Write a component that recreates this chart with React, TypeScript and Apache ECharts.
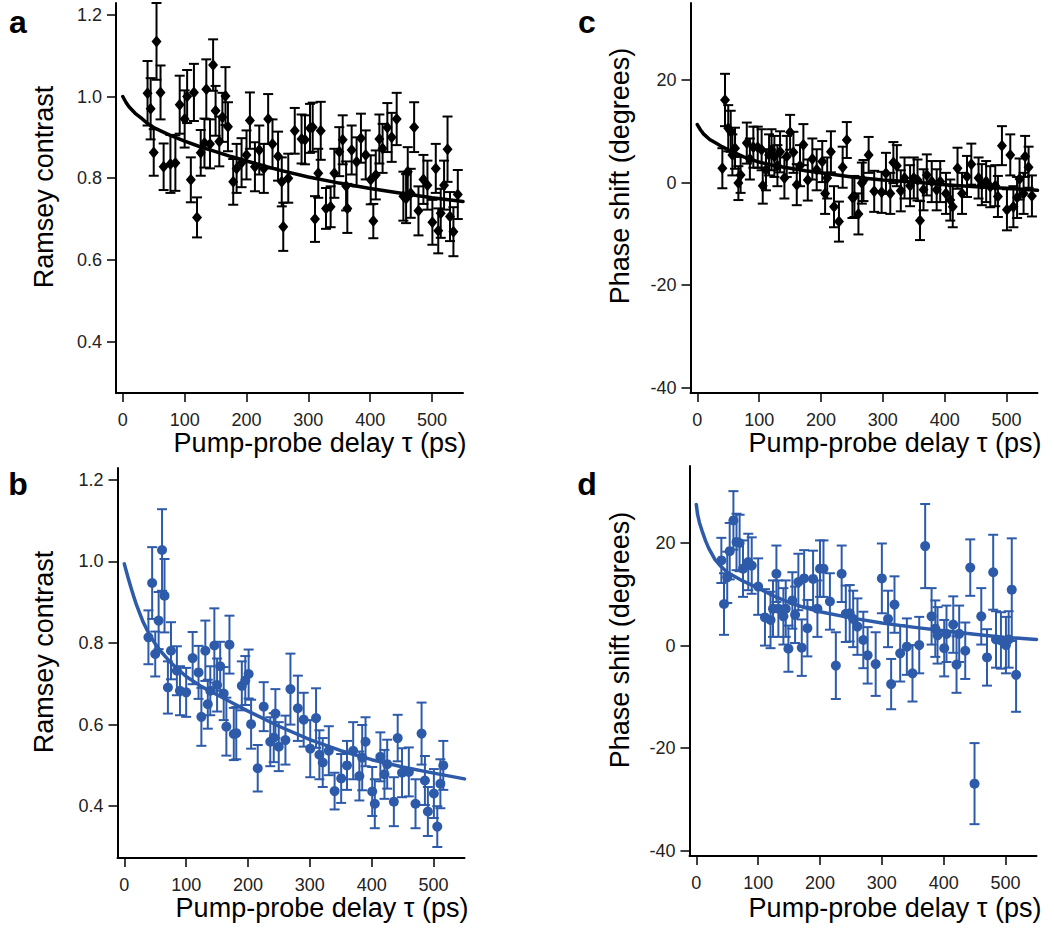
import React, { useEffect, useRef } from "react";
import * as echarts from "echarts";

// ---------- tick values ----------
const xTicks = [0, 100, 200, 300, 400, 500];
const ramseyTicks = [0.4, 0.6, 0.8, 1.0, 1.2];
const phaseTicks = [-40, -20, 0, 20];

// ---------- panel a: Ramsey contrast (black) ----------
const aT = [40, 45, 50, 54.5, 61, 66, 77, 85, 92, 100, 104, 110, 115, 120, 126, 132, 135, 141, 146, 150, 156, 161, 166, 170, 178.5, 184, 192, 200, 205.5, 213.6, 220.6, 228, 235, 242, 251, 257, 259.4, 267.5, 278, 289, 294.5, 302.6, 307, 310.7, 316, 320, 328.5, 336, 342, 350, 355.5, 361, 363, 370, 378, 385, 392.7, 400.8, 405, 409, 414.8, 420, 427.7, 434.7, 442.8, 453.6, 458, 460.7, 465.5, 471, 478, 486, 492.5, 500.5, 506, 510, 514, 519.4, 525, 529, 534.5, 541.6];
const aV = [1.008, 0.97, 0.863, 1.135, 1.01, 0.828, 0.835, 0.837, 0.98, 0.945, 1.0, 0.796, 1.01, 0.704, 0.862, 0.886, 1.018, 0.884, 1.077, 0.965, 0.89, 0.949, 1.001, 0.926, 0.791, 0.824, 0.838, 0.857, 0.941, 0.828, 0.869, 0.824, 0.945, 0.884, 0.854, 0.791, 0.681, 0.8, 0.916, 0.896, 0.894, 0.922, 0.925, 0.7, 0.812, 0.916, 0.726, 0.73, 0.812, 0.865, 0.894, 0.781, 0.726, 0.869, 0.84, 0.898, 0.857, 0.796, 0.695, 0.808, 0.896, 0.873, 0.924, 0.9, 0.945, 0.756, 0.75, 0.816, 0.763, 0.925, 0.72, 0.797, 0.783, 0.692, 0.824, 0.671, 0.714, 0.783, 0.871, 0.706, 0.669, 0.76];
const aE = [0.079, 0.075, 0.057, 0.094, 0.066, 0.057, 0.071, 0.068, 0.071, 0.07, 0.065, 0.055, 0.07, 0.049, 0.056, 0.06, 0.073, 0.06, 0.063, 0.061, 0.061, 0.06, 0.071, 0.06, 0.056, 0.06, 0.06, 0.06, 0.069, 0.06, 0.06, 0.06, 0.061, 0.06, 0.06, 0.06, 0.059, 0.06, 0.056, 0.06, 0.06, 0.06, 0.06, 0.056, 0.06, 0.071, 0.05, 0.05, 0.06, 0.06, 0.06, 0.06, 0.06, 0.06, 0.06, 0.06, 0.06, 0.06, 0.042, 0.06, 0.06, 0.06, 0.06, 0.06, 0.064, 0.06, 0.06, 0.06, 0.06, 0.061, 0.06, 0.06, 0.06, 0.055, 0.06, 0.055, 0.06, 0.06, 0.08, 0.06, 0.06, 0.06];
const aFitT = [0, 5, 10, 20, 30, 40, 50, 75, 100, 125, 150, 175, 200, 250, 300, 350, 400, 450, 500, 550];
const aFitV = [1.0, 0.986, 0.975, 0.959, 0.947, 0.934, 0.924, 0.906, 0.891, 0.877, 0.865, 0.853, 0.842, 0.821, 0.803, 0.788, 0.775, 0.763, 0.752, 0.743];

// ---------- panel b: Ramsey contrast (blue) ----------
const bT = [39, 45, 50, 55.5, 61, 65, 70.5, 75.5, 85, 90, 100, 110.5, 120, 124.6, 131, 135, 139, 145.6, 150, 155, 160.7, 165, 170, 177, 181, 190, 195.6, 201, 205, 215.7, 225.4, 236, 241.6, 244.3, 249.7, 260.5, 268.6, 280.6, 290, 300.6, 310, 315.4, 320.8, 330.6, 340, 350.6, 360, 370, 380, 384.6, 390, 400.8, 405, 414, 420.6, 425, 435.8, 442, 449, 460, 470.8, 480.6, 486, 490.8, 500.5, 506, 511, 515.7];
const bV = [0.814, 0.947, 0.773, 0.855, 1.028, 0.916, 0.691, 0.781, 0.732, 0.683, 0.679, 0.763, 0.728, 0.619, 0.781, 0.65, 0.683, 0.794, 0.697, 0.743, 0.676, 0.595, 0.796, 0.577, 0.579, 0.695, 0.708, 0.724, 0.601, 0.493, 0.644, 0.558, 0.568, 0.627, 0.546, 0.562, 0.687, 0.64, 0.612, 0.541, 0.616, 0.526, 0.507, 0.536, 0.437, 0.468, 0.5, 0.536, 0.474, 0.519, 0.558, 0.436, 0.406, 0.521, 0.478, 0.503, 0.411, 0.567, 0.482, 0.484, 0.406, 0.578, 0.463, 0.387, 0.431, 0.35, 0.455, 0.5];
const bE = [0.066, 0.088, 0.055, 0.07, 0.1, 0.09, 0.064, 0.07, 0.06, 0.06, 0.06, 0.064, 0.065, 0.071, 0.074, 0.06, 0.06, 0.091, 0.065, 0.06, 0.065, 0.071, 0.071, 0.064, 0.064, 0.06, 0.06, 0.06, 0.06, 0.057, 0.06, 0.06, 0.06, 0.06, 0.06, 0.06, 0.087, 0.08, 0.066, 0.07, 0.073, 0.06, 0.06, 0.06, 0.045, 0.06, 0.06, 0.07, 0.06, 0.08, 0.06, 0.06, 0.06, 0.06, 0.06, 0.06, 0.06, 0.057, 0.06, 0.06, 0.06, 0.076, 0.06, 0.06, 0.06, 0.05, 0.06, 0.06];
const bFitT = [0, 5, 10, 15, 20, 30, 40, 50, 60, 75, 100, 125, 150, 175, 200, 250, 300, 350, 400, 450, 500, 550];
const bFitV = [0.994, 0.966, 0.94, 0.915, 0.892, 0.853, 0.822, 0.798, 0.778, 0.752, 0.718, 0.693, 0.673, 0.653, 0.633, 0.596, 0.563, 0.536, 0.514, 0.496, 0.481, 0.467];

// ---------- panel c: phase shift (black) ----------
const cT = [40.5, 44.8, 50, 54, 56.7, 61, 66.4, 70, 80, 85, 90.6, 97.7, 104, 105.8, 111, 116, 120, 124.6, 129.5, 133.8, 140.8, 144.6, 150, 155.4, 160.8, 166, 171.5, 178.6, 186, 193, 202, 206.6, 210, 216, 221, 229, 235, 241.7, 250.8, 254, 260.5, 266, 268.6, 277, 286, 298, 305, 312, 317, 322.6, 329, 335, 344, 350, 356, 360, 365.7, 371, 379, 387, 392.7, 402, 409, 413, 420.7, 428, 436, 443, 454.7, 460, 467, 473.6, 481.7, 486, 492.5, 500.6, 506, 511, 517, 521, 527.5, 530, 535.6, 541];
const cV = [2.8, 16.1, 10.6, 10.0, 5.4, 6.7, -0.1, 1.5, 7.7, 4.6, 6.9, 6.9, 6.4, -0.6, 2.5, 5.4, 6.4, 5.1, 3.3, 6.0, 0.9, 5.1, 9.8, 5.9, -0.4, 3.3, 7.4, 0.5, 4.6, 2.5, 4.1, -2.1, 0.9, 6.0, -4.7, -7.6, 3.0, 8.3, -2.9, -2.7, -6.1, -0.1, 0.4, 5.4, -1.7, -1.9, 1.8, -2.1, 3.9, 3.3, -1.6, 0.9, -0.6, 0.9, 0.5, -7.4, -1.4, 1.5, 0.2, -1.4, 0.2, -2.1, -3.4, -4.7, 2.8, -2.1, 1.2, 3.6, 0.9, -0.4, 0.2, -0.8, -0.6, -2.7, 7.2, -5.3, 5.4, -4.7, -2.9, 0.7, -2.1, 5.1, 3.0, -2.6];
const cE = [3.9, 5.1, 4.5, 4, 4, 4, 3.3, 3.5, 4, 4, 4, 4, 4, 3.5, 4, 4, 4, 4, 4, 4, 4, 4, 3.4, 4, 4, 4, 4, 4, 4, 4, 4, 4, 4, 4, 4, 3.9, 4, 3.5, 4, 4, 4, 4, 4, 3.5, 4, 4, 4, 4, 4, 4, 4, 4, 4, 4, 4, 3.8, 4, 4, 4, 4, 4, 4, 4, 4, 4, 4, 4, 4, 4, 4, 4, 4, 4, 4, 3.8, 4, 4, 4, 4, 4, 4, 4, 4, 4];
const cFitT = [0, 5, 10, 20, 30, 40, 50, 75, 100, 125, 150, 175, 200, 250, 300, 350, 400, 450, 500, 550];
const cFitV = [11.3, 10.3, 9.5, 8.4, 7.7, 7.0, 6.4, 5.0, 4.0, 3.3, 2.8, 2.3, 1.9, 1.1, 0.5, 0.1, -0.4, -0.8, -1.1, -1.5];

// ---------- panel d: phase shift (blue) ----------
const dT = [40.5, 44.8, 50, 54, 60, 65, 70, 75.5, 84, 89.6, 100, 111, 120, 124, 129.5, 132.7, 140.8, 144.6, 148.9, 155.3, 159.7, 165, 170.5, 174.3, 179.6, 188.8, 195.8, 200, 205.6, 216, 225.6, 235, 241.7, 248, 253.6, 260.5, 270, 277, 290, 300, 310, 315, 320.4, 329.6, 340.4, 349.5, 360.4, 370, 380.4, 386.4, 390, 400.8, 404.5, 415.4, 420.7, 425, 434.8, 442.9, 449.8, 460.7, 470, 480, 484.5, 492.5, 500.6, 505, 510, 517];
const dV = [16.6, 8.1, 13.3, 18.4, 24.4, 20.2, 20.0, 15.0, 16.3, 15.6, 11.5, 5.5, 5.0, 7.2, 14.0, 7.2, 5.7, 7.2, -0.6, 8.8, 6.0, 12.4, -0.4, 13.1, 3.4, 13.0, 7.2, 15.0, 15.0, 8.6, -3.9, 14.0, 6.2, 6.3, 5.2, 3.7, 1.1, -1.9, -3.6, 13.1, 5.2, -7.5, 8.0, -1.5, -0.2, -5.4, 0.1, 19.4, 5.7, 3.3, 2.0, -0.5, 2.3, 4.1, -3.7, 2.3, -1.0, 15.2, -26.9, 5.7, -2.3, 14.3, 1.2, 1.0, 0.1, 1.2, 10.9, -5.7];
const dE = [4.4, 6.0, 5, 5.5, 5.7, 5.5, 5.5, 5.5, 5.5, 5.5, 5.5, 5.5, 5.5, 5.5, 5.5, 5.5, 5.5, 5.5, 4.5, 5.5, 5.5, 5.5, 5.5, 5.5, 5.5, 5.5, 5.5, 5.5, 5.5, 5.5, 6.5, 5.5, 5.5, 5.5, 5.5, 5.5, 5.5, 5.5, 6.2, 6.8, 5.5, 4.9, 5.5, 5.5, 5.5, 5.5, 5.5, 8.2, 5.5, 5.5, 5.5, 5.5, 5.5, 5.5, 5.5, 5.5, 5.5, 5.5, 7.9, 5.5, 5.5, 7.3, 5.5, 5.5, 5.5, 5.5, 10, 7.2];
const dFitT = [0, 2, 5, 10, 15, 20, 30, 40, 50, 75, 100, 125, 150, 175, 200, 250, 300, 350, 400, 450, 500, 550];
const dFitV = [27.5, 25.6, 24.0, 22.1, 20.4, 19.0, 16.8, 15.4, 14.3, 12.6, 11.2, 9.7, 8.4, 7.4, 6.6, 5.4, 4.4, 3.6, 2.9, 2.2, 1.6, 1.2];

const BLACK = "#000000";
const BLUE = "#2D5BA9";
const FONT = "'Liberation Sans', Arial, Helvetica, sans-serif";

type Panel = {
  grid: { left: number; top: number; width: number; height: number };
  yMin: number;
  yMax: number;
  yTicks: number[];
  yDigits: number;
  color: string;
  symbol: string;
  symbolSize: number | number[];
  t: number[];
  v: number[];
  e: number[];
  fitT: number[];
  fitV: number[];
};

const panels: Panel[] = [
  { grid: { left: 116, top: 3, width: 347, height: 390 }, yMin: 0.274, yMax: 1.229, yTicks: ramseyTicks, yDigits: 1, color: BLACK, symbol: "diamond", symbolSize: [10, 12], t: aT, v: aV, e: aE, fitT: aFitT, fitV: aFitV },
  { grid: { left: 117.5, top: 468, width: 347, height: 390 }, yMin: 0.273, yMax: 1.229, yTicks: ramseyTicks, yDigits: 1, color: BLUE, symbol: "circle", symbolSize: 10, t: bT, v: bV, e: bE, fitT: bFitT, fitV: bFitV },
  { grid: { left: 690.5, top: 3, width: 347, height: 390 }, yMin: -41, yMax: 35, yTicks: phaseTicks, yDigits: 0, color: BLACK, symbol: "diamond", symbolSize: [10, 12], t: cT, v: cV, e: cE, fitT: cFitT, fitV: cFitV },
  { grid: { left: 689.5, top: 466, width: 347, height: 390 }, yMin: -41, yMax: 35, yTicks: phaseTicks, yDigits: 0, color: BLUE, symbol: "circle", symbolSize: 10, t: dT, v: dV, e: dE, fitT: dFitT, fitV: dFitV },
];

function buildOption() {
  const grids: any[] = [];
  const xAxes: any[] = [];
  const yAxes: any[] = [];
  const series: any[] = [];

  panels.forEach((p, i) => {
    grids.push({ ...p.grid });
    xAxes.push({
      type: "value",
      gridIndex: i,
      min: -11,
      max: 550,
      axisLine: { show: true, onZero: false, lineStyle: { color: "#000", width: 2 } },
      axisTick: { show: true, inside: false, length: 9, customValues: xTicks, lineStyle: { color: "#000", width: 1.5 } },
      axisLabel: { customValues: xTicks, fontSize: 18, color: "#222", margin: 18, fontFamily: FONT },
      splitLine: { show: false },
    });
    yAxes.push({
      type: "value",
      gridIndex: i,
      min: p.yMin,
      max: p.yMax,
      axisLine: { show: true, onZero: false, lineStyle: { color: "#000", width: 2 } },
      axisTick: { show: true, inside: false, length: 9, customValues: p.yTicks, lineStyle: { color: "#000", width: 1.5 } },
      axisLabel: {
        customValues: p.yTicks,
        fontSize: 18,
        color: "#222",
        margin: 14,
        fontFamily: FONT,
        formatter: (val: number) => val.toFixed(p.yDigits),
      },
      splitLine: { show: false },
    });

    const errData = p.t.map((x, k) => [x, p.v[k] - p.e[k], p.v[k] + p.e[k]]);
    const color = p.color;
    series.push({
      type: "custom",
      xAxisIndex: i,
      yAxisIndex: i,
      data: errData,
      encode: { x: 0, y: [1, 2] },
      z: 2,
      renderItem: (params: any, api: any) => {
        const x = api.value(0);
        const lo = api.value(1);
        const hi = api.value(2);
        const top = api.coord([x, hi]);
        const bot = api.coord([x, lo]);
        const w = 5;
        const st = { stroke: color, lineWidth: 2, fill: "none" };
        return {
          type: "group",
          children: [
            { type: "line", shape: { x1: top[0], y1: top[1], x2: bot[0], y2: bot[1] }, style: st },
            { type: "line", shape: { x1: top[0] - w, y1: top[1], x2: top[0] + w, y2: top[1] }, style: st },
            { type: "line", shape: { x1: bot[0] - w, y1: bot[1], x2: bot[0] + w, y2: bot[1] }, style: st },
          ],
        };
      },
    });
    series.push({
      type: "scatter",
      xAxisIndex: i,
      yAxisIndex: i,
      symbol: p.symbol,
      symbolSize: p.symbolSize,
      itemStyle: { color: p.color, opacity: 1 },
      z: 3,
      data: p.t.map((x, k) => [x, p.v[k]]),
    });
    series.push({
      type: "line",
      xAxisIndex: i,
      yAxisIndex: i,
      showSymbol: false,
      symbol: "none",
      smooth: false,
      lineStyle: { color: p.color, width: 3.5, join: "round", cap: "round" },
      z: 4,
      data: p.fitT.map((x, k) => [x, p.fitV[k]]),
    });
  });

  const titleFont = `27px ${FONT}`;
  const letterFont = `bold 32px ${FONT}`;
  const txt = (text: string, x: number, y: number, font: string, rot = 0) => ({
    type: "text",
    x,
    y,
    rotation: rot,
    style: { text, font, fill: "#000", textAlign: "center", textVerticalAlign: "middle" },
  });

  const graphic = [
    txt("a", 18, 22, letterFont),
    txt("b", 18, 484, letterFont),
    txt("c", 587, 22, letterFont),
    txt("d", 587, 484, letterFont),
    txt("Ramsey contrast", 44, 187, titleFont, Math.PI / 2),
    txt("Ramsey contrast", 44, 652, titleFont, Math.PI / 2),
    txt("Phase shift (degrees)", 620, 176, titleFont, Math.PI / 2),
    txt("Phase shift (degrees)", 620, 640, titleFont, Math.PI / 2),
    txt("Pump-probe delay τ (ps)", 320, 443, titleFont),
    txt("Pump-probe delay τ (ps)", 322, 908, titleFont),
    txt("Pump-probe delay τ (ps)", 895, 443, titleFont),
    txt("Pump-probe delay τ (ps)", 895, 908, titleFont),
  ];

  return {
    animation: false,
    backgroundColor: "#ffffff",
    grid: grids,
    xAxis: xAxes,
    yAxis: yAxes,
    series,
    graphic,
  };
}

export default function App() {
  const ref = useRef<HTMLDivElement>(null);
  useEffect(() => {
    if (!ref.current) return;
    const chart = echarts.init(ref.current, null, { renderer: "svg" });
    chart.setOption(buildOption() as any);
    return () => chart.dispose();
  }, []);
  return (
    <div
      ref={ref}
      style={{ position: "fixed", left: 0, top: 0, width: 1054, height: 929, background: "#fff" }}
    />
  );
}
